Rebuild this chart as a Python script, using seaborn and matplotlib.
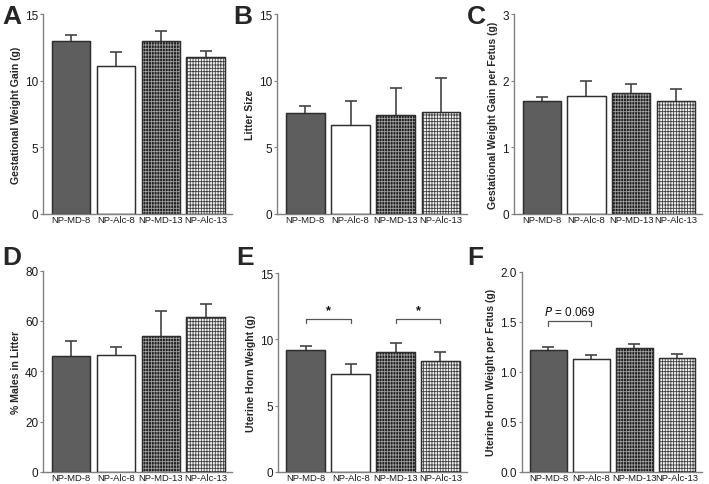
import numpy as np
import pandas as pd
import matplotlib
matplotlib.use("Agg")
import matplotlib.pyplot as plt
import seaborn as sns

sns.set_style("ticks")
plt.rcParams['font.family'] = ['Liberation Sans', 'DejaVu Sans']
plt.rcParams['hatch.linewidth'] = 0.6

groups = ["NP-MD-8", "NP-Alc-8", "NP-MD-13", "NP-Alc-13"]

# panel values (mean, sem)
gwg_mean = [12.95, 11.1, 13.0, 11.8]
gwg_sem = [0.5, 1.05, 0.75, 0.45]
litter_mean = [7.6, 6.65, 7.45, 7.63]
litter_sem = [0.5, 1.8, 2.0, 2.55]
gwg_fetus_mean = [1.70, 1.77, 1.81, 1.69]
gwg_fetus_sem = [0.06, 0.23, 0.14, 0.19]
males_mean = [45.9, 46.3, 53.9, 61.5]
males_sem = [6.1, 3.4, 10.0, 5.3]
uterine_mean = [9.17, 7.4, 9.02, 8.35]
uterine_sem = [0.3, 0.72, 0.67, 0.7]
uterine_fetus_mean = [1.22, 1.125, 1.237, 1.138]
uterine_fetus_sem = [0.025, 0.045, 0.043, 0.04]

panels = [
    ("A", gwg_mean, gwg_sem, "Gestational Weight Gain (g)", [0, 5, 10, 15], None),
    ("B", litter_mean, litter_sem, "Litter Size", [0, 5, 10, 15], None),
    ("C", gwg_fetus_mean, gwg_fetus_sem, "Gestational Weight Gain per Fetus (g)", [0, 1, 2, 3], None),
    ("D", males_mean, males_sem, "% Males in Litter", [0, 20, 40, 60, 80], None),
    ("E", uterine_mean, uterine_sem, "Uterine Horn Weight (g)", [0, 5, 10, 15],
     [((0, 1), 11.55, 11.2, "*"), ((2, 3), 11.55, 11.2, "*")]),
    ("F", uterine_fetus_mean, uterine_fetus_sem, "Uterine Horn Weight per Fetus (g)",
     [0.0, 0.5, 1.0, 1.5, 2.0], [((0, 1), 1.51, 1.46, "$P$ = 0.069")]),
]

# axes rectangles in figure fractions
boxes = [
    (0.061, 0.557, 0.266, 0.412),
    (0.391, 0.557, 0.268, 0.412),
    (0.725, 0.557, 0.265, 0.412),
    (0.061, 0.025, 0.266, 0.415),
    (0.392, 0.025, 0.266, 0.410),
    (0.736, 0.025, 0.254, 0.413),
]
letter_pos = [(0.003, 0.951), (0.329, 0.951), (0.659, 0.951),
              (0.003, 0.454), (0.333, 0.454), (0.659, 0.454)]

fills = ["#5e5e5e", "#ffffff", "#1e1e1e", "#f2f2f2"]
hatches = [None, None, ("||||||-----", "#a0a0a0"), ("||||||-----", "#404040")]
edge = "#2e2e2e"
bar_w = 0.86

fig = plt.figure(figsize=(7.09, 4.85), dpi=100)

for (letter, means, sems, ylabel, yticks, brackets), box, lp in zip(panels, boxes, letter_pos):
    ax = fig.add_axes(box)
    df = pd.DataFrame({"group": groups, "value": means})
    sns.barplot(data=df, x="group", y="value", hue="group", order=groups,
                hue_order=groups, palette=fills, legend=False, width=bar_w,
                edgecolor=edge, linewidth=0.9, errorbar=None, ax=ax)
    for p in ax.patches:
        p.set_zorder(2)
    x = np.arange(len(groups))
    for i, h in enumerate(hatches):
        if h is not None:
            ax.bar(x[i], means[i], width=bar_w, fill=False, hatch=h[0],
                   edgecolor=h[1], linewidth=0, zorder=3)
    ax.bar(x, means, width=bar_w, fill=False, edgecolor=edge, linewidth=0.9, zorder=4)
    ax.errorbar(x, means, yerr=sems, fmt="none", ecolor="#444444",
                elinewidth=1.2, capsize=4.3, capthick=1.2, zorder=1.5)

    if brackets:
        for (a, b), top, low, label in brackets:
            ax.plot([a, a, b, b], [low, top, top, low], color="#555555", lw=0.9, zorder=5)
            yr = yticks[-1] - yticks[0]
            ax.text((a + b) / 2, top + yr * 0.012, label, ha="center", va="bottom",
                    fontsize=9 if label == "*" else 8.5, color="#111111",
                    fontweight="bold" if label == "*" else "normal")

    ax.set_xlim(-0.62, 3.58)
    ax.set_ylim(yticks[0], yticks[-1])
    ax.set_yticks(yticks)
    if letter == "F":
        ax.set_yticklabels([f"{t:.1f}" for t in yticks])
    ax.set_xlabel("")
    ax.set_ylabel(ylabel, fontsize=7.6, fontweight="bold", labelpad=3)
    sns.despine(ax=ax)
    for s in ["left", "bottom"]:
        ax.spines[s].set_color("#808080")
        ax.spines[s].set_linewidth(1.0)
    ax.tick_params(axis="y", length=2, width=0.8, color="#808080",
                   labelsize=8.5, pad=1.5, labelcolor="#1a1a1a")
    ax.tick_params(axis="x", length=0, labelsize=6.8, pad=1, labelcolor="#1a1a1a")

    fig.text(lp[0], lp[1], letter, fontsize=19, fontweight="bold", ha="left", va="baseline")

fig.savefig("out.png", dpi=100)
